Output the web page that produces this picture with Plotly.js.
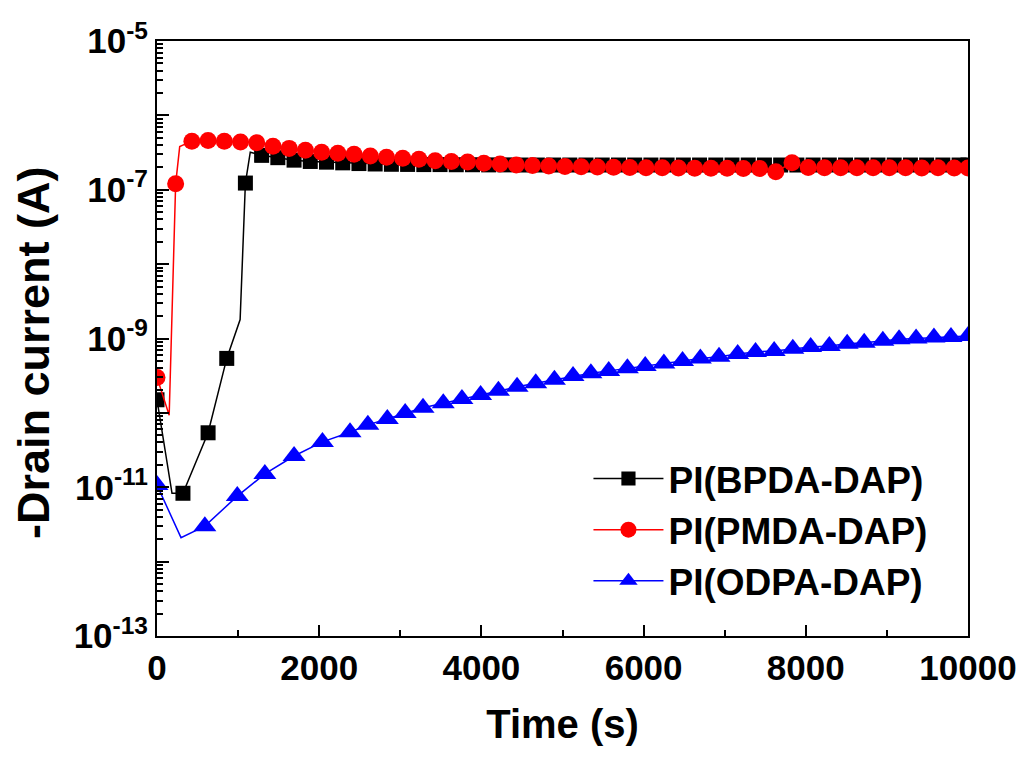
<!DOCTYPE html>
<html>
<head>
<meta charset="utf-8">
<script src="https://cdn.plot.ly/plotly-3.0.1.min.js"></script>
<style>
  html, body { margin: 0; padding: 0; background: #fff; }
  #chart { width: 1027px; height: 761px; }
</style>
</head>
<body>
<div id="chart"></div>
<script>
// ---------- DATA ----------
// Series names
const seriesNames = ['PI(BPDA-DAP)', 'PI(PMDA-DAP)', 'PI(ODPA-DAP)'];

// PI(BPDA-DAP): points drawn with a marker
const bpdaTime = [0, 320, 630, 860, 1090, 1290, 1490, 1690, 1890, 2090, 2290, 2490, 2690, 2890, 3090, 3290, 3490, 3690, 3890, 4090, 4290, 4490, 4690, 4890, 5090, 5290, 5490, 5690, 5890, 6090, 6290, 6490, 6690, 6890, 7090, 7290, 7490, 7690, 7890, 8090, 8290, 8490, 8690, 8890, 9090, 9290, 9490, 9690, 9890, 10000];
const bpdaCurrent = [1.5e-10, 8.3e-12, 5.4e-11, 5.4e-10, 1.23e-7, 2.9e-7, 2.7e-7, 2.5e-7, 2.4e-7, 2.35e-7, 2.3e-7, 2.25e-7, 2.22e-7, 2.2e-7, 2.19e-7, 2.18e-7, 2.18e-7, 2.17e-7, 2.17e-7, 2.16e-7, 2.16e-7, 2.15e-7, 2.15e-7, 2.15e-7, 2.15e-7, 2.15e-7, 2.15e-7, 2.15e-7, 2.15e-7, 2.15e-7, 2.15e-7, 2.15e-7, 2.15e-7, 2.15e-7, 2.15e-7, 2.15e-7, 2.15e-7, 2.15e-7, 2.15e-7, 2.15e-7, 2.15e-7, 2.15e-7, 2.15e-7, 2.15e-7, 2.15e-7, 2.15e-7, 2.15e-7, 2.15e-7, 2.15e-7, 2.15e-7];
// PI(BPDA-DAP): intermediate line vertices without a marker
const bpdaKinkTime = [185, 1025, 1150];
const bpdaKinkCurrent = [8.3e-12, 1.8e-9, 3.2e-7];

// PI(PMDA-DAP): points drawn with a marker
const pmdaTime = [0, 230, 430, 630, 830, 1030, 1230, 1430, 1630, 1830, 2030, 2230, 2430, 2630, 2830, 3030, 3230, 3430, 3630, 3830, 4030, 4230, 4430, 4630, 4830, 5030, 5230, 5430, 5630, 5830, 6030, 6230, 6430, 6630, 6830, 7030, 7230, 7430, 7630, 7830, 8030, 8230, 8430, 8630, 8830, 9030, 9230, 9430, 9630, 9830, 10000];
const pmdaCurrent = [3.0e-10, 1.2e-7, 4.5e-7, 4.6e-7, 4.5e-7, 4.4e-7, 4.3e-7, 3.85e-7, 3.6e-7, 3.4e-7, 3.2e-7, 3.1e-7, 3.0e-7, 2.85e-7, 2.73e-7, 2.65e-7, 2.57e-7, 2.46e-7, 2.39e-7, 2.36e-7, 2.27e-7, 2.22e-7, 2.16e-7, 2.12e-7, 2.09e-7, 2.06e-7, 2.04e-7, 2.02e-7, 2.0e-7, 1.99e-7, 1.98e-7, 1.97e-7, 1.96e-7, 1.95e-7, 1.94e-7, 1.94e-7, 1.93e-7, 1.93e-7, 1.75e-7, 2.3e-7, 1.99e-7, 1.98e-7, 1.98e-7, 1.97e-7, 1.98e-7, 1.97e-7, 1.97e-7, 1.96e-7, 1.97e-7, 1.96e-7, 1.96e-7];
const pmdaKinkTime = [150, 280];
const pmdaKinkCurrent = [9.3e-11, 3.8e-7];

// PI(ODPA-DAP): points drawn with a marker
const odpaTime = [0, 590, 990, 1330, 1690, 2040, 2380, 2600, 2840, 3060, 3280, 3530, 3760, 3990, 4210, 4440, 4670, 4900, 5130, 5350, 5570, 5800, 6020, 6250, 6480, 6700, 6930, 7160, 7380, 7610, 7840, 8060, 8290, 8510, 8720, 8950, 9150, 9360, 9580, 9790, 10000];
const odpaCurrent = [1.07e-11, 3.0e-12, 7.6e-12, 1.51e-11, 2.63e-11, 4.07e-11, 5.5e-11, 6.9e-11, 8.3e-11, 1.0e-10, 1.17e-10, 1.35e-10, 1.54e-10, 1.74e-10, 1.99e-10, 2.24e-10, 2.5e-10, 2.78e-10, 3.14e-10, 3.41e-10, 3.67e-10, 3.99e-10, 4.28e-10, 4.6e-10, 5.0e-10, 5.4e-10, 5.7e-10, 6.2e-10, 6.6e-10, 6.8e-10, 7.3e-10, 7.7e-10, 7.9e-10, 8.5e-10, 8.8e-10, 9.3e-10, 9.8e-10, 1.0e-9, 1.03e-9, 1.05e-9, 1.08e-9];
const odpaKinkTime = [296];
const odpaKinkCurrent = [2.1e-12];

// Axis titles and tick labels
const xTitle = 'Time (s)';
const yTitle = '-Drain current (A)';
const xTickValues = [0, 2000, 4000, 6000, 8000, 10000];
const xTickLabels = ['0', '2000', '4000', '6000', '8000', '10000'];
const yTickValues = [1e-13, 1e-12, 1e-11, 1e-10, 1e-9, 1e-8, 1e-7, 1e-6, 1e-5];
const yTickLabels = ['10<sup>-13</sup>', '', '10<sup>-11</sup>', '', '10<sup>-9</sup>', '', '10<sup>-7</sup>', '', '10<sup>-5</sup>'];

// ---------- BUILD ----------
function merge(t, v, kt, kv, size) {
  const pts = [];
  t.forEach((x, i) => pts.push([x, v[i], size]));
  kt.forEach((x, i) => pts.push([x, kv[i], 0]));
  pts.sort((a, b) => a[0] - b[0]);
  return { x: pts.map(p => p[0]), y: pts.map(p => p[1]), s: pts.map(p => p[2]) };
}

const FONT = 'Liberation Sans, Arial, sans-serif';
const styles = [
  { color: '#000000', symbol: 'square', size: 15 },
  { color: '#ff0000', symbol: 'circle', size: 17 },
  { color: '#0000ff', symbol: 'triangle-up', size: 20 }
];
const sets = [
  merge(bpdaTime, bpdaCurrent, bpdaKinkTime, bpdaKinkCurrent, styles[0].size),
  merge(pmdaTime, pmdaCurrent, pmdaKinkTime, pmdaKinkCurrent, styles[1].size),
  merge(odpaTime, odpaCurrent, odpaKinkTime, odpaKinkCurrent, styles[2].size)
];

const traces = sets.map((d, i) => ({
  type: 'scatter',
  mode: 'lines+markers',
  name: seriesNames[i],
  x: d.x,
  y: d.y,
  line: { color: styles[i].color, width: 1.5 },
  marker: { color: styles[i].color, symbol: styles[i].symbol, size: d.s, opacity: 1, line: { width: 0 } }
}));

const minorY = [];
for (let e = -13; e < -5; e++) {
  for (let m = 2; m <= 9; m++) minorY.push(m * Math.pow(10, e));
}

const layout = {
  width: 1027,
  height: 761,
  margin: { l: 157, r: 59, t: 41, b: 125 },
  paper_bgcolor: '#ffffff',
  plot_bgcolor: '#ffffff',
  showlegend: true,
  font: { family: FONT, color: '#000000' },
  legend: {
    x: 0.532, y: 0.316, xanchor: 'left', yanchor: 'top',
    bgcolor: 'rgba(0,0,0,0)',
    borderwidth: 0,
    itemwidth: 70,
    tracegroupgap: 0,
    font: { family: FONT, size: 37, weight: 'bold', color: '#000000' }
  },
  annotations: [{
    text: yTitle,
    xref: 'paper', yref: 'paper',
    x: -0.153, y: 0.477,
    xanchor: 'center', yanchor: 'middle',
    textangle: -90,
    showarrow: false,
    font: { family: FONT, size: 45, weight: 'bold', color: '#000' }
  }],
  xaxis: {
    range: [0, 10000],
    tickmode: 'array',
    tickvals: xTickValues,
    ticktext: xTickLabels,
    ticks: 'inside',
    ticklen: 11,
    tickwidth: 2,
    tickcolor: '#000',
    showline: true,
    linewidth: 2,
    linecolor: '#000',
    mirror: true,
    showgrid: false,
    zeroline: false,
    tickfont: { family: FONT, size: 35, weight: 'bold', color: '#000' },
    minor: { dtick: 1000, tick0: 0, ticks: 'inside', ticklen: 6, tickwidth: 2, tickcolor: '#000', showgrid: false },
    title: { text: xTitle, font: { family: FONT, size: 40, weight: 'bold', color: '#000' }, standoff: 24 }
  },
  yaxis: {
    type: 'log',
    range: [-13, -5],
    tickmode: 'array',
    tickvals: yTickValues,
    ticktext: yTickLabels,
    ticks: 'inside',
    ticklen: 12,
    tickwidth: 2,
    tickcolor: '#000',
    showline: true,
    linewidth: 2,
    linecolor: '#000',
    mirror: true,
    showgrid: false,
    zeroline: false,
    tickfont: { family: FONT, size: 35, weight: 'bold', color: '#000' },
    minor: { tickmode: 'array', tickvals: minorY, ticks: 'inside', ticklen: 6, tickwidth: 2, tickcolor: '#000', showgrid: false }
  }
};

Plotly.newPlot('chart', traces, layout, { displayModeBar: false, staticPlot: true });
</script>
</body>
</html>
